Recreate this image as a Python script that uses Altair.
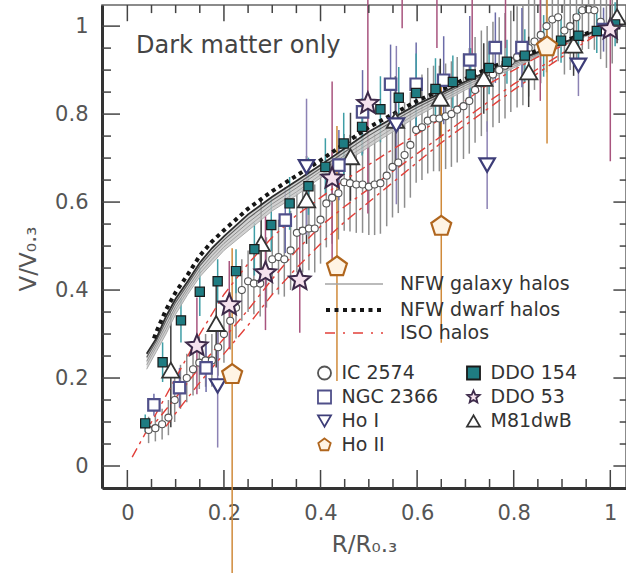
import altair as alt
import pandas as pd

# ---------------- observed rotation curves: R/R0.3, V/V0.3, velocity error ----------------
ic2574_x = [0.044, 0.058, 0.072, 0.085, 0.098, 0.110, 0.123, 0.136, 0.149, 0.162, 0.175, 0.188, 0.200,
            0.213, 0.225, 0.237, 0.250, 0.262, 0.275, 0.288, 0.300, 0.313, 0.325, 0.338, 0.351, 0.363,
            0.376, 0.388, 0.400, 0.412, 0.424, 0.437, 0.449, 0.461, 0.474, 0.487, 0.500, 0.512, 0.524,
            0.537, 0.549, 0.561, 0.574, 0.586, 0.598, 0.610, 0.622, 0.634, 0.646, 0.659, 0.671, 0.683,
            0.696, 0.708, 0.720, 0.733, 0.745, 0.757, 0.770, 0.782, 0.794, 0.807, 0.819, 0.831, 0.843,
            0.856, 0.868, 0.880, 0.892, 0.905, 0.917, 0.930, 0.942, 0.955, 0.967, 0.980, 0.992, 1.004]
ic2574_y = [0.082, 0.086, 0.095, 0.110, 0.150, 0.180, 0.200, 0.220, 0.235, 0.240, 0.240, 0.270, 0.300,
            0.330, 0.360, 0.400, 0.420, 0.415, 0.415, 0.440, 0.470, 0.475, 0.470, 0.490, 0.530, 0.535,
            0.540, 0.540, 0.560, 0.597, 0.610, 0.620, 0.645, 0.643, 0.640, 0.640, 0.635, 0.640, 0.643,
            0.660, 0.680, 0.690, 0.707, 0.730, 0.764, 0.770, 0.785, 0.790, 0.790, 0.795, 0.800, 0.810,
            0.818, 0.830, 0.855, 0.870, 0.880, 0.890, 0.900, 0.910, 0.920, 0.930, 0.935, 0.950, 0.965,
            0.980, 1.000, 1.015, 1.020, 0.990, 1.000, 1.020, 1.036, 1.038, 1.036, 1.010, 0.990, 1.000]
ic2574_err = [0.030, 0.030, 0.035, 0.040, 0.050, 0.050, 0.055, 0.060, 0.060, 0.060, 0.060, 0.065, 0.065,
              0.065, 0.070, 0.070, 0.070, 0.070, 0.075, 0.080, 0.080, 0.085, 0.085, 0.090, 0.090, 0.095,
              0.095, 0.100, 0.100, 0.100, 0.105, 0.105, 0.110, 0.110, 0.110, 0.110, 0.110, 0.115, 0.115,
              0.115, 0.115, 0.115, 0.120, 0.120, 0.120, 0.120, 0.120, 0.120, 0.120, 0.120, 0.120, 0.120,
              0.120, 0.120, 0.120, 0.120, 0.120, 0.120, 0.120, 0.120, 0.115, 0.115, 0.115, 0.110, 0.110,
              0.110, 0.105, 0.100, 0.100, 0.100, 0.100, 0.095, 0.090, 0.090, 0.090, 0.085, 0.085, 0.085]

ddo154_x = [0.037, 0.073, 0.111, 0.150, 0.187, 0.225, 0.263, 0.298, 0.336, 0.375, 0.410, 0.448, 0.486,
            0.524, 0.562, 0.598, 0.638, 0.674, 0.711, 0.749, 0.786, 0.823, 0.862, 0.898, 0.934, 0.972, 1.010]
ddo154_y = [0.097, 0.236, 0.331, 0.396, 0.420, 0.443, 0.493, 0.548, 0.597, 0.636, 0.680, 0.733, 0.771,
            0.811, 0.837, 0.848, 0.857, 0.873, 0.890, 0.905, 0.919, 0.933, 0.955, 0.967, 0.978, 0.989, 1.004]
ddo154_err = [0.020, 0.045, 0.050, 0.055, 0.050, 0.050, 0.060, 0.060, 0.060, 0.065, 0.065, 0.070, 0.065,
              0.075, 0.070, 0.090, 0.070, 0.060, 0.060, 0.060, 0.050, 0.060, 0.070, 0.050, 0.060, 0.050, 0.050]

ngc2366_x = [0.055, 0.108, 0.163, 0.327, 0.438, 0.487, 0.545, 0.598, 0.655, 0.709, 0.762, 0.817, 0.986]
ngc2366_y = [0.139, 0.178, 0.223, 0.559, 0.684, 0.805, 0.868, 0.868, 0.877, 0.923, 0.951, 0.951, 0.992]
ngc2366_err = [0.025, 0.045, 0.055, 0.075, 0.080, 0.095, 0.090, 0.095, 0.100, 0.100, 0.080, 0.090, 0.050]

hoi_x = [0.187, 0.371, 0.557, 0.745, 0.934]
hoi_y = [0.182, 0.680, 0.775, 0.684, 0.911]
hoi_err = [0.140, 0.155, 0.180, 0.100, 0.070]

hoii_x = [0.217, 0.434, 0.650, 0.869]
hoii_y = [0.208, 0.453, 0.545, 0.953]
hoii_err_lo = [0.460, 0.260, 0.265, 0.220]
hoii_err_hi = [0.287, 0.320, 0.330, 0.220]

# the outer DDO 53 points lie above the top of the frame; only their error bars reach into it
ddo53_x = [0.144, 0.211, 0.286, 0.357, 0.424, 0.498, 0.569, 0.641, 0.714, 0.783, 0.855, 1.000]
ddo53_y = [0.273, 0.366, 0.439, 0.423, 0.654, 0.824, 1.120, 1.130, 1.120, 1.140, 1.120, 0.993]
ddo53_err = [0.110, 0.100, 0.130, 0.120, 0.220, 0.250, 0.125, 0.180, 0.200, 0.190, 0.290, 0.300]

m81dwb_x = [0.090, 0.184, 0.277, 0.371, 0.462, 0.555, 0.648, 0.738, 0.831, 0.924, 1.014]
m81dwb_y = [0.218, 0.324, 0.506, 0.605, 0.703, 0.786, 0.836, 0.881, 0.896, 0.957, 1.021]
m81dwb_err = [0.130, 0.100, 0.100, 0.100, 0.100, 0.100, 0.090, 0.080, 0.080, 0.070, 0.060]

# ---------------- halo model curves ----------------
nfw_x = [0.04, 0.06, 0.08, 0.10, 0.125, 0.15, 0.175, 0.20, 0.25, 0.30, 0.35, 0.40, 0.45,
         0.50, 0.55, 0.60, 0.65, 0.70, 0.75, 0.80, 0.85, 0.90, 0.95, 1.00, 1.03]
nfw_gal_1 = [0.220, 0.260, 0.300, 0.345, 0.390, 0.430, 0.460, 0.490, 0.535, 0.580, 0.615, 0.655, 0.690,
             0.725, 0.760, 0.795, 0.825, 0.855, 0.880, 0.905, 0.930, 0.955, 0.977, 1.000, 1.010]
nfw_gal_2 = [0.230, 0.270, 0.310, 0.355, 0.398, 0.438, 0.469, 0.498, 0.544, 0.588, 0.623, 0.662, 0.698,
             0.733, 0.768, 0.802, 0.831, 0.860, 0.885, 0.909, 0.933, 0.957, 0.978, 1.000, 1.010]
nfw_gal_3 = [0.238, 0.277, 0.320, 0.363, 0.405, 0.446, 0.478, 0.506, 0.553, 0.596, 0.632, 0.670, 0.706,
             0.742, 0.776, 0.808, 0.837, 0.865, 0.890, 0.913, 0.936, 0.959, 0.979, 1.000, 1.010]
nfw_gal_4 = [0.247, 0.284, 0.330, 0.372, 0.413, 0.455, 0.487, 0.514, 0.563, 0.604, 0.640, 0.677, 0.714,
             0.751, 0.784, 0.815, 0.843, 0.870, 0.895, 0.917, 0.939, 0.961, 0.980, 1.000, 1.010]
nfw_gal_5 = [0.255, 0.290, 0.340, 0.380, 0.420, 0.462, 0.495, 0.522, 0.572, 0.612, 0.648, 0.684, 0.722,
             0.760, 0.791, 0.822, 0.848, 0.874, 0.899, 0.920, 0.941, 0.962, 0.981, 1.000, 1.010]

nfw_dwarf_x = [0.055, 0.06, 0.08, 0.10, 0.125, 0.15, 0.175, 0.20, 0.25, 0.30, 0.35, 0.40, 0.45,
               0.50, 0.55, 0.60, 0.65, 0.70, 0.75, 0.80, 0.85, 0.90, 0.95, 1.00, 1.03]
nfw_dwarf_y = [0.290, 0.305, 0.355, 0.395, 0.435, 0.478, 0.510, 0.536, 0.585, 0.625, 0.660, 0.695, 0.733,
               0.770, 0.800, 0.830, 0.855, 0.880, 0.905, 0.925, 0.945, 0.965, 0.983, 1.000, 1.010]

iso_1_x = [0.01, 0.05, 0.10, 0.15, 0.20, 0.25, 0.30, 0.35, 0.40, 0.45, 0.50,
           0.55, 0.60, 0.65, 0.70, 0.75, 0.80, 0.85, 0.90, 0.95, 1.00]
iso_1_y = [0.020, 0.100, 0.200, 0.300, 0.390, 0.460, 0.520, 0.570, 0.610, 0.650, 0.685,
           0.720, 0.755, 0.790, 0.830, 0.870, 0.900, 0.930, 0.955, 0.980, 1.000]
iso_2_x = [0.04, 0.10, 0.15, 0.20, 0.25, 0.30, 0.35, 0.40, 0.45, 0.50,
           0.55, 0.60, 0.65, 0.70, 0.75, 0.80, 0.85, 0.90, 0.95, 1.00]
iso_2_y = [0.075, 0.155, 0.225, 0.290, 0.355, 0.425, 0.490, 0.545, 0.590, 0.630,
           0.670, 0.710, 0.750, 0.790, 0.830, 0.868, 0.903, 0.938, 0.970, 1.000]
iso_3_x = [0.08, 0.10, 0.15, 0.20, 0.25, 0.30, 0.35, 0.40, 0.45, 0.50,
           0.55, 0.60, 0.65, 0.70, 0.75, 0.80, 0.85, 0.90, 0.95, 1.00]
iso_3_y = [0.090, 0.120, 0.190, 0.255, 0.320, 0.390, 0.450, 0.505, 0.555, 0.600,
           0.645, 0.690, 0.735, 0.775, 0.815, 0.855, 0.893, 0.930, 0.965, 1.000]

# ---------------- axis ticks ----------------
major_ticks = [0, 0.2, 0.4, 0.6, 0.8, 1.0]
minor_ticks = [0.05, 0.1, 0.15, 0.25, 0.3, 0.35, 0.45, 0.5, 0.55, 0.65, 0.7, 0.75, 0.85, 0.9, 0.95]

# ---------------- styling ----------------
W, H = 524, 483
FONT = "DejaVu Sans"
TEXT = "#555555"
INK = "#333333"
LEGEND_FS = 19

PENTAGON = "M0,-1L0.951,-0.309L0.588,0.809L-0.588,0.809L-0.951,-0.309Z"
STAR = ("M0,-1L0.265,-0.364L0.951,-0.309L0.428,0.139L0.588,0.809L0,0.45"
        "L-0.588,0.809L-0.428,0.139L-0.951,-0.309L-0.265,-0.364Z")

# legend order: two columns, filled column by column
legend_order = ["IC 2574", "NGC 2366", "Ho I", "Ho II", "DDO 154", "DDO 53", "M81dwB"]
style = {
    "IC 2574":  dict(shape="circle",        fill="#ffffff", stroke="#555555", bar="#8e8e8e", size=50,  sw=1.1),
    "DDO 154":  dict(shape="square",        fill="#1f7c82", stroke="#1a1a1a", bar="#3f9ea6", size=85,  sw=1.2),
    "NGC 2366": dict(shape="square",        fill="#ffffff", stroke="#50508a", bar="#6c6ca8", size=130, sw=2.2),
    "DDO 53":   dict(shape=STAR,            fill="#f6e2ee", stroke="#3d2a4a", bar="#a8547e", size=500, sw=2.0),
    "Ho I":     dict(shape="triangle-down", fill="#ffffff", stroke="#3d3d78", bar="#8c82b4", size=240, sw=2.2),
    "M81dwB":   dict(shape="triangle-up",   fill="#ffffff", stroke="#333333", bar="#3c3c3c", size=300, sw=1.8),
    "Ho II":    dict(shape=PENTAGON,        fill="#fff4e4", stroke="#b0661e", bar="#d08a3a", size=440, sw=2.2),
}
series = {
    "IC 2574": (ic2574_x, ic2574_y, ic2574_err, ic2574_err),
    "M81dwB": (m81dwb_x, m81dwb_y, m81dwb_err, m81dwb_err),
    "NGC 2366": (ngc2366_x, ngc2366_y, ngc2366_err, ngc2366_err),
    "Ho I": (hoi_x, hoi_y, hoi_err, hoi_err),
    "DDO 154": (ddo154_x, ddo154_y, ddo154_err, ddo154_err),
    "DDO 53": (ddo53_x, ddo53_y, ddo53_err, ddo53_err),
    "Ho II": (hoii_x, hoii_y, hoii_err_lo, hoii_err_hi),
}

rows = []
for name, (xs_, ys_, lo_, hi_) in series.items():
    st = style[name]
    for x, y, lo, hi in zip(xs_, ys_, lo_, hi_):
        rows.append(dict(galaxy=name, x=x, y=y, ylo=y - lo, yhi=y + hi, sz=st["size"], sw=st["sw"]))
obs = pd.DataFrame(rows)

# NFW galaxy-halo curves, lighter at the bottom of the band and darker towards the top
gal_shades = ["#b4b4b4", "#a0a0a0", "#868686", "#5e5e5e", "#2c2c2c"]
gal_widths = [0.9, 0.9, 0.9, 1.1, 1.8]
gal_curves = [nfw_gal_1, nfw_gal_2, nfw_gal_3, nfw_gal_4, nfw_gal_5]
gal_df = pd.DataFrame([dict(model="NFW galaxy halos", curve=i, shade=gal_shades[i], w=gal_widths[i], x=x, y=y)
                       for i, c in enumerate(gal_curves) for x, y in zip(nfw_x, c)])
band_df = pd.DataFrame(dict(x=nfw_x, lo=nfw_gal_1, hi=nfw_gal_5))
dwarf_df = pd.DataFrame(dict(model="NFW dwarf halos", x=nfw_dwarf_x, y=nfw_dwarf_y))
iso_df = pd.DataFrame([dict(model="ISO halos", curve=i, x=x, y=y)
                       for i, (cx, cy) in enumerate([(iso_1_x, iso_1_y), (iso_2_x, iso_2_y), (iso_3_x, iso_3_y)])
                       for x, y in zip(cx, cy)])
major_df = pd.DataFrame(dict(t=major_ticks))
minor_df = pd.DataFrame(dict(t=minor_ticks))

# ---------------- scales & axes ----------------
xscale = alt.Scale(domain=[-0.0525, 1.0325], nice=False, zero=False)
yscale = alt.Scale(domain=[-0.05, 1.048], nice=False, zero=False)
axis_common = dict(values=major_ticks, format="~g", ticks=False, tickSize=0, grid=False,
                   domainColor=INK, domainWidth=3, labelFont=FONT, labelFontSize=21,
                   labelColor=TEXT, titleFont=FONT, titleFontSize=23,
                   titleFontWeight="normal", titleColor=TEXT)
x_axis = alt.Axis(title="R/R₀.₃", labelPadding=14, titlePadding=10, **axis_common)
y_axis = alt.Axis(title="V/V₀.₃", labelPadding=14, titlePadding=14, titleY=H / 2 + 12, **axis_common)


def X(field):
    return alt.X(field, type="quantitative", scale=xscale, axis=x_axis)


def Y(field):
    return alt.Y(field, type="quantitative", scale=yscale, axis=y_axis)


def line_legend(y, width, offset, dash=None):
    opts = dict(title=None, orient="none", legendX=222, legendY=y, symbolType="stroke",
                symbolSize=3364, symbolStrokeWidth=width, labelOffset=offset, clipHeight=24,
                padding=0, labelFont=FONT, labelFontSize=LEGEND_FS, labelColor=INK, labelLimit=400)
    if dash:
        opts["symbolDash"] = dash
    return alt.Legend(**opts)


layers = []

# error bars, one colour per galaxy
for name in series:
    layers.append(
        alt.Chart(obs[obs.galaxy == name]).mark_rule(strokeWidth=1.5, color=style[name]["bar"])
        .encode(x=X("x"), y=Y("ylo"), y2=alt.Y2("yhi"))
    )

# NFW galaxy halo band
layers.append(
    alt.Chart(band_df).mark_area(color="#c6c6c6", opacity=0.8, clip=True)
    .encode(x=X("x"), y=Y("lo"), y2=alt.Y2("hi"))
)
layers.append(
    alt.Chart(gal_df[gal_df.curve > 0]).mark_line(clip=True)
    .encode(x=X("x"), y=Y("y"), detail="curve:N", color=alt.Color("shade:N", scale=None),
            strokeWidth=alt.StrokeWidth("w:Q", scale=None, legend=None))
)
layers.append(
    alt.Chart(gal_df[gal_df.curve == 0]).mark_line(strokeWidth=0.9, clip=True)
    .encode(x=X("x"), y=Y("y"),
            color=alt.Color("model:N", scale=alt.Scale(domain=["NFW galaxy halos"], range=["#a4a4a4"]),
                            legend=line_legend(267, 1.5, 16)))
)
# ISO halos
layers.append(
    alt.Chart(iso_df).mark_line(strokeWidth=1.4, strokeDash=[10, 5, 3, 5], clip=True)
    .encode(x=X("x"), y=Y("y"), detail="curve:N",
            color=alt.Color("model:N", scale=alt.Scale(domain=["ISO halos"], range=["#e2403a"]),
                            legend=line_legend(316, 1.5, 16, [10, 8, 2, 8])))
)
# NFW dwarf halos
layers.append(
    alt.Chart(dwarf_df).mark_line(strokeWidth=4, strokeDash=[4, 4], strokeCap="butt", clip=True)
    .encode(x=X("x"), y=Y("y"),
            color=alt.Color("model:N", scale=alt.Scale(domain=["NFW dwarf halos"], range=["#151515"]),
                            legend=line_legend(293, 4, 14, [4, 4.5])))
)

# observed points
pt_legend = alt.Legend(title=None, orient="none", legendX=213, legendY=356, columns=2,
                       columnPadding=25, rowPadding=0, clipHeight=24, padding=0,
                       symbolSize=170, symbolStrokeWidth=1.8, labelOffset=7.5,
                       labelFont=FONT, labelFontSize=LEGEND_FS, labelColor=INK, labelLimit=400)
layers.append(
    alt.Chart(obs).mark_point(opacity=1)
    .encode(
        x=X("x"), y=Y("y"),
        shape=alt.Shape("galaxy:N", scale=alt.Scale(domain=legend_order,
                                                     range=[style[g]["shape"] for g in legend_order]),
                        legend=pt_legend),
        fill=alt.Fill("galaxy:N", scale=alt.Scale(domain=legend_order,
                                                  range=[style[g]["fill"] for g in legend_order]),
                      legend=pt_legend),
        stroke=alt.Stroke("galaxy:N", scale=alt.Scale(domain=legend_order,
                                                      range=[style[g]["stroke"] for g in legend_order]),
                          legend=pt_legend),
        size=alt.Size("sz:Q", scale=None, legend=None),
        strokeWidth=alt.StrokeWidth("sw:Q", scale=None, legend=None),
    )
)

# inward tick marks on all four sides
tick_color = "#444444"
for df, length in ((major_df, 18), (minor_df, 9)):
    layers.append(alt.Chart(df).mark_rule(color=tick_color, strokeWidth=1.5)
                  .encode(x=X("t"), y=alt.value(H), y2=alt.value(H - length)))
    layers.append(alt.Chart(df).mark_rule(color=tick_color, strokeWidth=1.5)
                  .encode(x=X("t"), y=alt.value(0), y2=alt.value(length * 0.9)))
    layers.append(alt.Chart(df).mark_rule(color=tick_color, strokeWidth=1.5)
                  .encode(y=Y("t"), x=alt.value(0), x2=alt.value(length)))
    layers.append(alt.Chart(df).mark_rule(color=tick_color, strokeWidth=1.5)
                  .encode(y=Y("t"), x=alt.value(W), x2=alt.value(W - length * 0.7)))

# panel label
layers.append(
    alt.Chart(pd.DataFrame(dict(label=["Dark matter only"])))
    .mark_text(align="left", baseline="middle", font=FONT, fontSize=24, color="#444444")
    .encode(x=alt.value(34), y=alt.value(41), text="label:N")
)

chart = (
    alt.layer(*layers)
    .resolve_scale(color="independent")
    .properties(width=W, height=H, autosize=alt.AutoSizeParams(type="none"),
                padding={"left": 102, "top": 5, "right": 0, "bottom": 85})
    .configure_view(stroke="#666666", strokeWidth=1.5)
)

chart.save("out.html", embed_options={"renderer": "svg", "actions": False})
